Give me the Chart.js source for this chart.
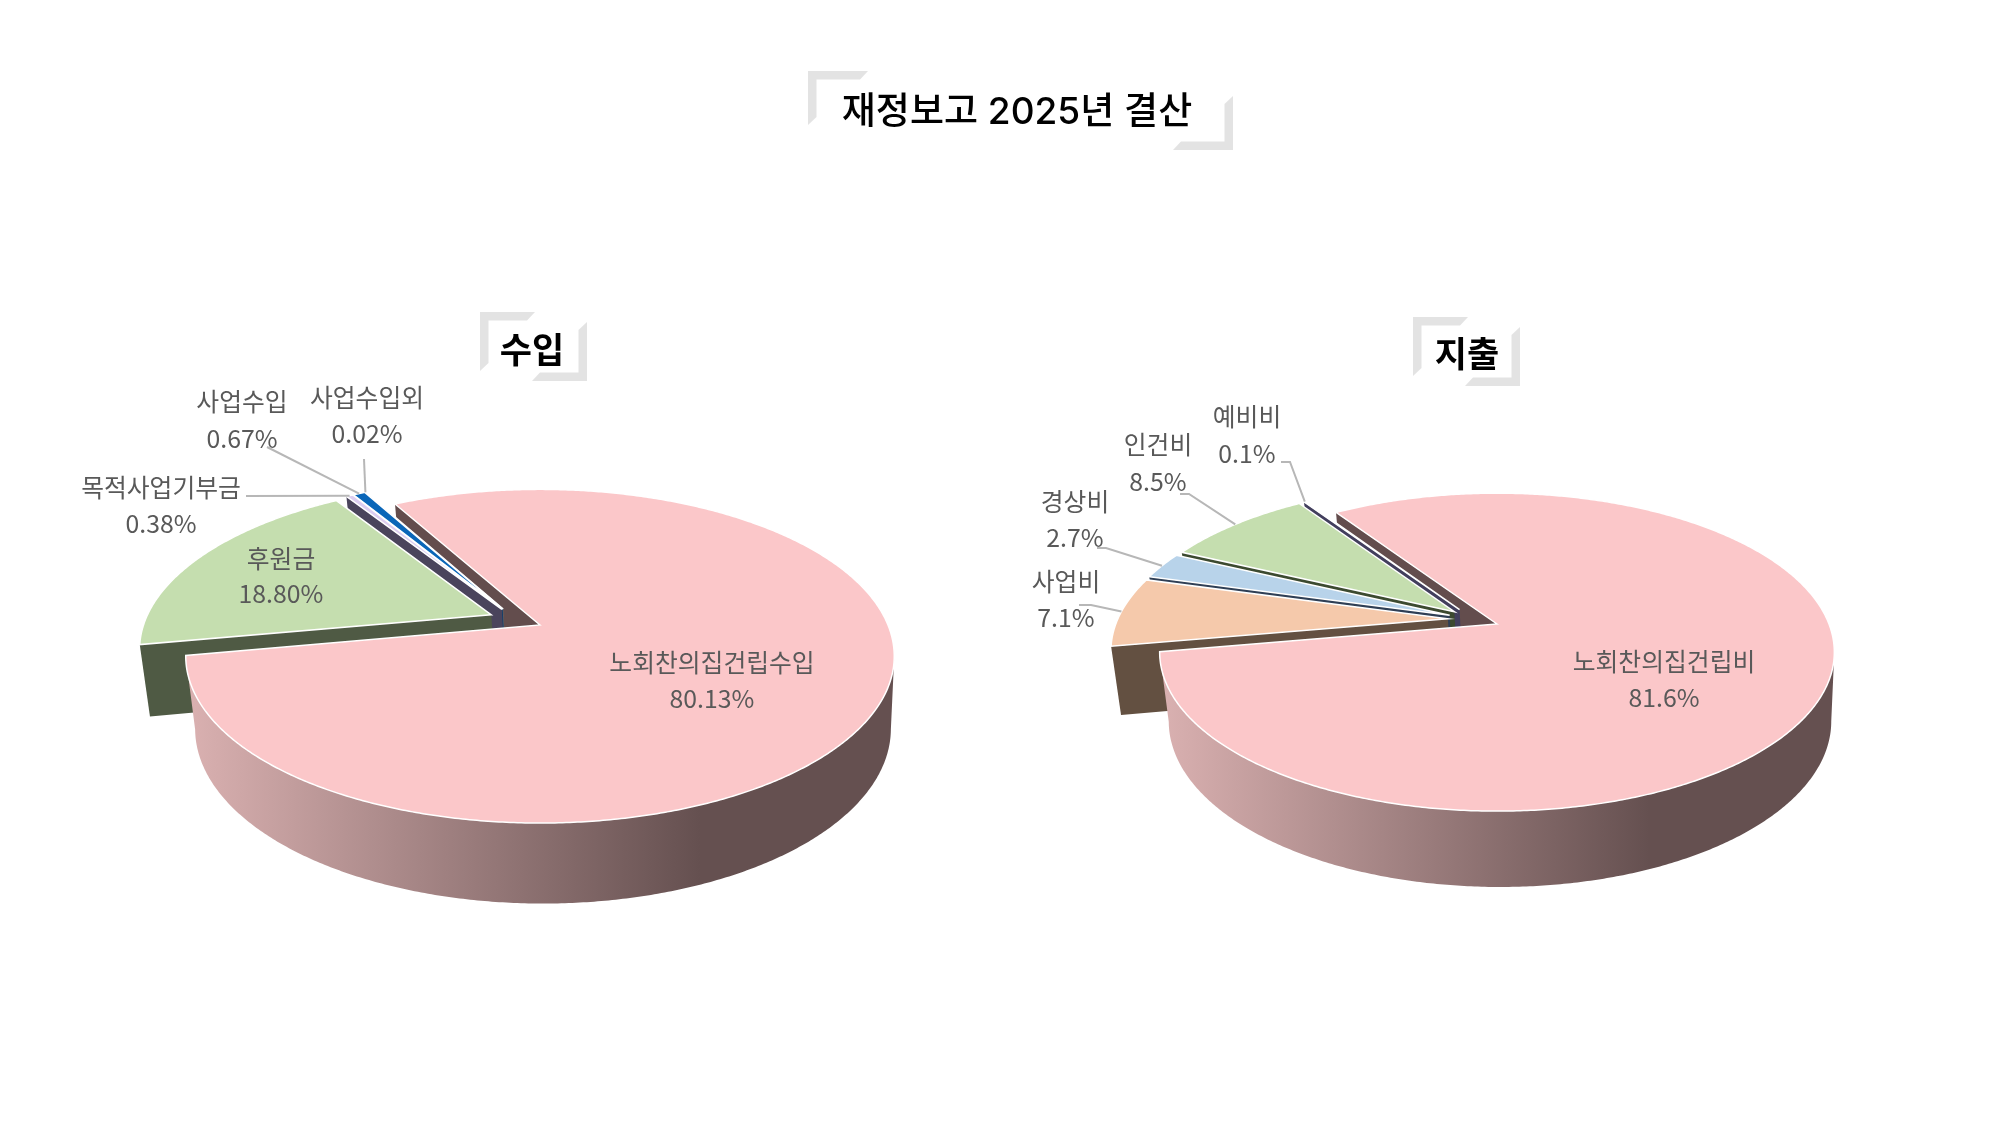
<!DOCTYPE html>
<html lang="ko">
<head>
<meta charset="utf-8">
<title>재정보고 2025년 결산</title>
<script src="https://cdn.jsdelivr.net/npm/chart.js@4"></script>
<style>
  html, body { margin: 0; background: #fff; }
  #page { position: relative; width: 2000px; height: 1125px; overflow: hidden; font-family: Inter, "Noto Sans CJK KR", "Noto Sans", sans-serif; }
  canvas, svg { position: absolute; left: 0; top: 0; }
  .heading { position: absolute; transform: translate(-50%, -50%); color: #000; white-space: nowrap; }
</style>
</head>
<body>
<div id="page">
  <svg id="brackets" width="2000" height="1125"></svg>
  <canvas id="income" width="2000" height="1125"></canvas>
  <canvas id="expense" width="2000" height="1125"></canvas>
  <div class="heading" style="left:1017px;top:108px;font-size:37px;font-weight:500">재정보고 2025년 결산</div>
  <div class="heading" style="left:532px;top:347px;font-size:35px;font-weight:700">수입</div>
  <div class="heading" style="left:1467px;top:351px;font-size:35px;font-weight:700">지출</div>
</div>

<script>
// 수입
const incomeLabels = ['노회찬의집건립수입', '후원금', '목적사업기부금', '사업수입', '사업수입외'];
const incomeValues = [80.13, 18.80, 0.38, 0.67, 0.02];

// 지출
const expenseLabels = ['노회찬의집건립비', '사업비', '경상비', '인건비', '예비비'];
const expenseValues = [81.6, 7.1, 2.7, 8.5, 0.1];

const incomeTops = ['#fbc7c9', '#c5deaf', '#dccdf0', '#0a66b8', '#e4f0fa'];
const incomeWalls = ['#634d4d', '#4f5a44', '#4a445c', '#0a3d6e', '#666666'];
const expenseTops = ['#fbc7c9', '#f5c9ab', '#b8d3ea', '#c5deaf', '#e6e0f4'];
const expenseWalls = ['#634d4d', '#635041', '#2f3f55', '#3c4a30', '#423f5d'];

// projection of the flat pie: cx,cy = apex of the big slice, k = perspective strength
const incomeCamera = { cx: 540, cy: 625, A: 348, B: 161, k: 0.187, drop: 71, stretch: 1.048 };
const expenseCamera = { cx: 1497, cy: 624, A: 332, B: 154, k: 0.177, drop: 68, stretch: 1.042 };

// label centre x, first line y, second line y, then leader elbow points
const incomeLayout = [
  { x: 712, y: 663, y2: 699 },
  { x: 281, y: 559, y2: 594 },
  { x: 161, y: 488, y2: 524, leader: [[246, 496]] },
  { x: 242, y: 402, y2: 439, leader: [[267, 447]] },
  { x: 367, y: 398, y2: 434, leader: [[364, 459]] }
];
const expenseLayout = [
  { x: 1664, y: 662, y2: 698 },
  { x: 1066, y: 582, y2: 618, leader: [[1079, 605], [1091, 605]] },
  { x: 1075, y: 502, y2: 538, leader: [[1097, 548], [1106, 548]] },
  { x: 1158, y: 445, y2: 482, leader: [[1180, 494], [1189, 494]] },
  { x: 1247, y: 417, y2: 454, leader: [[1281, 462], [1290, 462]] }
];

const SHRINK = 0.982;
const SLIDE = 3;
const STEP = Math.PI / 360;

// turns a point of the flat pie into screen coordinates, top or bottom face
function projector(cam, arc, first, bottom) {
  const explode = arc.options.offset / arc.outerRadius;
  const mid = (arc.startAngle + arc.endAngle) / 2;
  const mid0 = (first.startAngle + first.endAngle) / 2;
  const du = explode * (Math.cos(mid) - Math.cos(mid0));
  const dv = explode * (Math.sin(mid0) - Math.sin(mid));
  return function (angle, r) {
    const u = r * Math.cos(angle) + du;
    const v = -r * Math.sin(angle) + dv;
    const s = 1 / (1 + cam.k * v);
    const px = cam.A * u * s;
    const py = -cam.B * v * s;
    if (!bottom) return [cam.cx + px, cam.cy + py];
    return [cam.cx + SLIDE + px * SHRINK, cam.cy + cam.drop + py * cam.stretch];
  };
}

function tracePolygon(ctx, points) {
  ctx.beginPath();
  points.forEach((p, i) => i ? ctx.lineTo(p[0], p[1]) : ctx.moveTo(p[0], p[1]));
  ctx.closePath();
}

function drawSlice(ctx, cam, arc, first, wall) {
  const top = projector(cam, arc, first, false);
  const low = projector(cam, arc, first, true);

  // cut face on the start side of the slice
  tracePolygon(ctx, [top(0, 0), top(arc.startAngle, 1), low(arc.startAngle, 1), low(0, 0)]);
  ctx.fillStyle = wall;
  ctx.fill();

  // flat top
  const rim = [top(0, 0)];
  for (let a = arc.startAngle; a < arc.endAngle; a += STEP) rim.push(top(a, 1));
  rim.push(top(arc.endAngle, 1));
  tracePolygon(ctx, rim);
  ctx.fillStyle = arc.options.backgroundColor;
  ctx.fill();
  ctx.strokeStyle = '#fff';
  ctx.lineWidth = 1.5;
  ctx.lineJoin = 'miter';
  ctx.stroke();
}

// side of the disc, only the part that faces the viewer
function drawOuterWall(ctx, cam, arc, first) {
  const top = projector(cam, arc, first, false);
  const low = projector(cam, arc, first, true);
  const upper = [];
  const lower = [];
  for (let a = arc.startAngle; a <= arc.endAngle; a += STEP) {
    if (-Math.sin(a) > -cam.k) continue;
    upper.push(top(a, 1));
    lower.unshift(low(a, 1));
  }
  const grad = ctx.createLinearGradient(cam.cx - cam.A, 0, cam.cx + cam.A * 0.46, 0);
  grad.addColorStop(0, '#d9b0b0');
  grad.addColorStop(1, '#655050');
  tracePolygon(ctx, upper.concat(lower));
  ctx.fillStyle = grad;
  ctx.fill();
}

const pie3d = {
  id: 'pie3d',
  beforeDatasetsDraw(chart, args, opts) {
    const ctx = chart.ctx;
    const arcs = chart.getDatasetMeta(0).data;
    const first = arcs[0];

    // back wall of the big slice goes under everything
    const top0 = projector(opts.camera, first, first, false);
    const low0 = projector(opts.camera, first, first, true);
    tracePolygon(ctx, [top0(0, 0), top0(first.startAngle, 1), low0(first.startAngle, 1), low0(0, 0)]);
    ctx.fillStyle = opts.walls[0];
    ctx.fill();

    for (let i = arcs.length - 1; i > 0; i--) drawSlice(ctx, opts.camera, arcs[i], first, opts.walls[i]);

    drawOuterWall(ctx, opts.camera, first, first);
    const rim = [top0(0, 0)];
    for (let a = first.startAngle; a < first.endAngle; a += STEP) rim.push(top0(a, 1));
    rim.push(top0(first.endAngle, 1));
    tracePolygon(ctx, rim);
    ctx.fillStyle = first.options.backgroundColor;
    ctx.fill();
    ctx.strokeStyle = '#fff';
    ctx.lineWidth = 1.5;
    ctx.stroke();

    return false;
  },
  afterDraw(chart, args, opts) {
    const ctx = chart.ctx;
    const arcs = chart.getDatasetMeta(0).data;
    const values = chart.data.datasets[0].data;
    const names = chart.data.labels;
    ctx.save();
    opts.layout.forEach((item, i) => {
      if (item.leader) {
        const end = projector(opts.camera, arcs[i], arcs[0], false)((arcs[i].startAngle + arcs[i].endAngle) / 2, 1);
        ctx.beginPath();
        item.leader.forEach((p, j) => j ? ctx.lineTo(p[0], p[1]) : ctx.moveTo(p[0], p[1]));
        ctx.lineTo(end[0], end[1]);
        ctx.strokeStyle = '#b7b7b7';
        ctx.lineWidth = 2;
        ctx.stroke();
      }
      ctx.fillStyle = '#595959';
      ctx.font = '24.8px "Noto Sans CJK KR", "Noto Sans", sans-serif';
      ctx.textAlign = 'center';
      ctx.textBaseline = 'middle';
      ctx.fillText(names[i], item.x, item.y);
      ctx.fillText(values[i].toFixed(opts.digits) + '%', item.x, item.y2);
    });
    ctx.restore();
  }
};

function makePie(id, labels, values, tops, walls, camera, layout, rotation, digits) {
  return new Chart(document.getElementById(id), {
    type: 'pie',
    data: {
      labels: labels,
      datasets: [{ data: values, backgroundColor: tops, borderWidth: 0, offset: 42 }]
    },
    options: {
      responsive: false,
      animation: false,
      rotation: rotation,
      events: [],
      plugins: {
        legend: { display: false },
        tooltip: { enabled: false },
        pie3d: { camera: camera, walls: walls, layout: layout, digits: digits }
      }
    },
    plugins: [pie3d]
  });
}

makePie('income', incomeLabels, incomeValues, incomeTops, incomeWalls, incomeCamera, incomeLayout, -29, 2);
makePie('expense', expenseLabels, expenseValues, expenseTops, expenseWalls, expenseCamera, expenseLayout, -33.8, 1);

// grey corner marks around the headings
function bracket(x, y, w, h, armX, armY, t, cut) {
  const r = x + w, b = y + h;
  return [
    [[x, y], [x + armX, y], [x + armX - cut, y + t], [x + t, y + t], [x + t, y + armY - cut], [x, y + armY]],
    [[r, b], [r - armX, b], [r - armX + cut, b - t], [r - t, b - t], [r - t, b - armY + cut], [r, b - armY]]
  ];
}
const marks = [
  ...bracket(808, 71, 425, 79, 60, 54, 8.5, 8),
  ...bracket(480, 312, 107, 69, 55, 59, 8.5, 8),
  ...bracket(1413, 317, 107, 69, 55, 59, 8.5, 8)
];
document.getElementById('brackets').innerHTML = marks.map(p =>
  `<polygon fill="#e3e3e3" points="${p.map(q => q.join(',')).join(' ')}"/>`).join('');
</script>
</body>
</html>
